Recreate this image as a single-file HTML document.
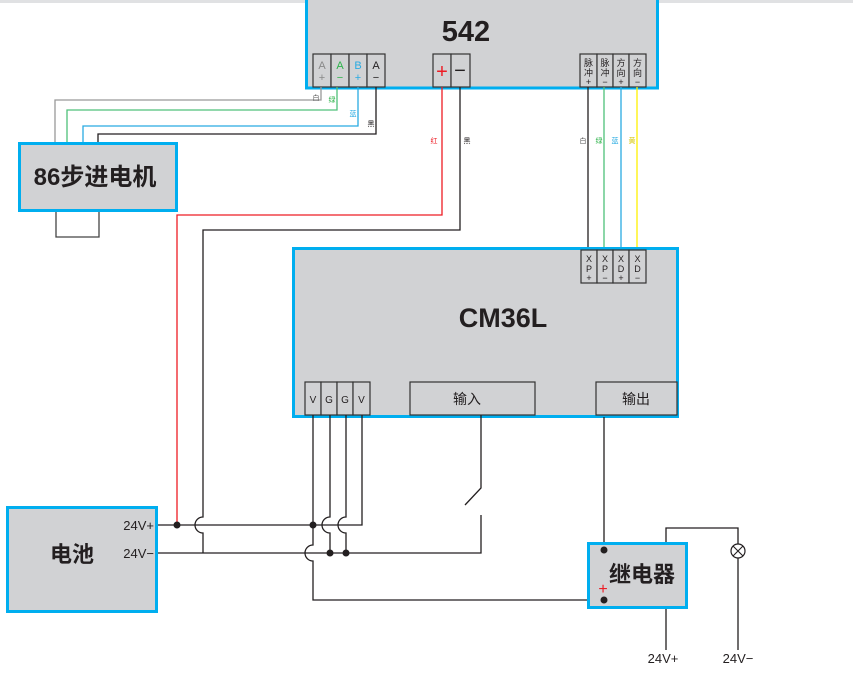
<!DOCTYPE html>
<html><head><meta charset="utf-8"><style>
html,body{margin:0;padding:0;background:#fff;}
svg{display:block;}
text{font-family:"Liberation Sans","Noto Sans CJK SC",sans-serif;}
</style></head><body>
<svg width="853" height="678" viewBox="0 0 853 678" xmlns="http://www.w3.org/2000/svg">
<rect x="0" y="0" width="853" height="3" fill="#e0e1e3"/>

<!-- 542 box -->
<rect x="306.5" y="-5" width="351" height="93" fill="#d1d2d4" stroke="#00aeef" stroke-width="3"/>
<text x="466" y="41" font-size="29" font-weight="bold" text-anchor="middle" fill="#231f20">542</text>
<g stroke="#333" stroke-width="1.2" fill="#d1d2d4">
<rect x="313" y="54" width="18" height="33"/><rect x="331" y="54" width="18" height="33"/>
<rect x="349" y="54" width="18" height="33"/><rect x="367" y="54" width="18" height="33"/>
<rect x="433" y="54" width="18" height="33"/><rect x="451" y="54" width="19" height="33"/>
<rect x="580" y="54" width="17" height="33"/><rect x="597" y="54" width="16" height="33"/>
<rect x="613" y="54" width="16" height="33"/><rect x="629" y="54" width="17" height="33"/>
</g>
<g font-size="11" text-anchor="middle">
<text x="322" y="69" fill="#888">A</text><text x="322" y="81" fill="#888">+</text>
<text x="340" y="69" fill="#2db34a">A</text><text x="340" y="81" fill="#2db34a">−</text>
<text x="358" y="69" fill="#29abe2">B</text><text x="358" y="81" fill="#29abe2">+</text>
<text x="376" y="69" fill="#231f20">A</text><text x="376" y="81" fill="#231f20">−</text>
</g>
<text x="442" y="78" font-size="20" text-anchor="middle" fill="#ed1c24">+</text>
<text x="460" y="77" font-size="20" text-anchor="middle" fill="#231f20">−</text>
<g font-size="9" text-anchor="middle" fill="#231f20">
<text x="588.5" y="66">脉</text><text x="588.5" y="76">冲</text><text x="588.5" y="85">+</text>
<text x="605" y="66">脉</text><text x="605" y="76">冲</text><text x="605" y="85">−</text>
<text x="621" y="66">方</text><text x="621" y="76">向</text><text x="621" y="85">+</text>
<text x="637.5" y="66">方</text><text x="637.5" y="76">向</text><text x="637.5" y="85">−</text>
</g>

<!-- motor wires -->
<g fill="none" stroke-width="1.3">
<path d="M321,87 V100 H55 V142" stroke="#999"/>
<path d="M337,87 V110 H67 V142" stroke="#4fc17a"/>
<path d="M358,87 V126 H83 V142" stroke="#29abe2"/>
<path d="M376,87 V134 H98 V142" stroke="#231f20"/>
<path d="M56,211 V237 H99 V211" stroke="#444"/>
<path d="M442,87 V215 H177 V525" stroke="#ed1c24"/>
<path d="M460,87 V230 H203 V517 A8,8 0 0 0 203,533 V553" stroke="#231f20"/>
<path d="M588,87 V250" stroke="#231f20"/>
<path d="M604,87 V250" stroke="#4fc17a"/>
<path d="M621,87 V250" stroke="#29abe2"/>
<path d="M637,87 V250" stroke="#fff200"/>
</g>
<g font-size="7" text-anchor="middle">
<text x="316" y="100" fill="#555">白</text><text x="332" y="102" fill="#2db34a">绿</text>
<text x="353" y="116" fill="#29abe2">蓝</text><text x="371" y="126" fill="#231f20">黑</text>
<text x="434" y="143" fill="#ed1c24">红</text><text x="467" y="143" fill="#231f20">黑</text>
<text x="583" y="143" fill="#555">白</text><text x="599" y="143" fill="#2db34a">绿</text>
<text x="615" y="143" fill="#29abe2">蓝</text><text x="632" y="143" fill="#d4c400">黄</text>
</g>

<!-- motor box -->
<rect x="19.5" y="143.5" width="157" height="67" fill="#d1d2d4" stroke="#00aeef" stroke-width="3"/>
<text x="95" y="185" font-size="24" font-weight="bold" text-anchor="middle" fill="#231f20">86步进电机</text>

<!-- CM36L -->
<rect x="293.5" y="248.5" width="384" height="168" fill="#d1d2d4" stroke="#00aeef" stroke-width="3"/>
<text x="503" y="327" font-size="27" font-weight="bold" text-anchor="middle" fill="#231f20">CM36L</text>
<g stroke="#333" stroke-width="1.2" fill="#d1d2d4">
<rect x="581" y="250" width="16" height="33"/><rect x="597" y="250" width="16" height="33"/>
<rect x="613" y="250" width="16" height="33"/><rect x="629" y="250" width="17" height="33"/>
<rect x="305" y="382" width="16" height="33"/><rect x="321" y="382" width="16" height="33"/>
<rect x="337" y="382" width="16" height="33"/><rect x="353" y="382" width="17" height="33"/>
<rect x="410" y="382" width="125" height="33"/><rect x="596" y="382" width="81" height="33"/>
</g>
<g font-size="9" text-anchor="middle" fill="#231f20">
<text x="589" y="262">X</text><text x="589" y="272">P</text><text x="589" y="281">+</text>
<text x="605" y="262">X</text><text x="605" y="272">P</text><text x="605" y="281">−</text>
<text x="621" y="262">X</text><text x="621" y="272">D</text><text x="621" y="281">+</text>
<text x="637.5" y="262">X</text><text x="637.5" y="272">D</text><text x="637.5" y="281">−</text>
</g>
<g font-size="10" text-anchor="middle" fill="#231f20">
<text x="313" y="403">V</text><text x="329" y="403">G</text><text x="345" y="403">G</text><text x="361.5" y="403">V</text>
</g>
<text x="467" y="404" font-size="14" text-anchor="middle" fill="#231f20">输入</text>
<text x="636" y="404" font-size="14" text-anchor="middle" fill="#231f20">输出</text>

<!-- power wiring -->
<g fill="none" stroke="#231f20" stroke-width="1.3">
<path d="M157,525 H362 V415"/>
<path d="M157,553 H481 V515"/>
<path d="M481,415 V488 L465,505"/>
<path d="M313,415 V545 A8,8 0 0 0 313,561 V600 H604"/>
<path d="M330,415 V517 A8,8 0 0 0 330,533 V553"/>
<path d="M346,415 V517 A8,8 0 0 0 346,533 V553"/>
<path d="M604,417 V545"/>
<path d="M666,543 V528 H738 V544"/>
<path d="M738,558 V650"/>
<path d="M666,608 V650"/>
</g>
<circle cx="738" cy="551" r="7" fill="#fff" stroke="#231f20" stroke-width="1.2"/>
<path d="M733,546 L743,556 M743,546 L733,556" stroke="#231f20" stroke-width="1.1"/>
<g fill="#231f20">
<circle cx="177" cy="525" r="3.5"/><circle cx="313" cy="525" r="3.5"/>
<circle cx="330" cy="553" r="3.5"/><circle cx="346" cy="553" r="3.5"/>
</g>

<!-- battery -->
<rect x="7.5" y="507.5" width="149" height="104" fill="#d1d2d4" stroke="#00aeef" stroke-width="3"/>
<text x="72" y="562" font-size="22" font-weight="bold" text-anchor="middle" fill="#231f20">电池</text>
<text x="154" y="530" font-size="13" text-anchor="end" fill="#231f20">24V+</text>
<text x="154" y="558" font-size="13" text-anchor="end" fill="#231f20">24V−</text>

<!-- relay -->
<rect x="588.5" y="543.5" width="98" height="64" fill="#d1d2d4" stroke="#00aeef" stroke-width="3"/>
<text x="642" y="582" font-size="22" font-weight="bold" text-anchor="middle" fill="#231f20">继电器</text>
<circle cx="604" cy="550" r="3.5" fill="#231f20"/>
<circle cx="604" cy="600" r="3.5" fill="#231f20"/>
<text x="603" y="594" font-size="16" text-anchor="middle" fill="#ed1c24">+</text>
<text x="663" y="663" font-size="13" text-anchor="middle" fill="#231f20">24V+</text>
<text x="738" y="663" font-size="13" text-anchor="middle" fill="#231f20">24V−</text>
</svg>
</body></html>
